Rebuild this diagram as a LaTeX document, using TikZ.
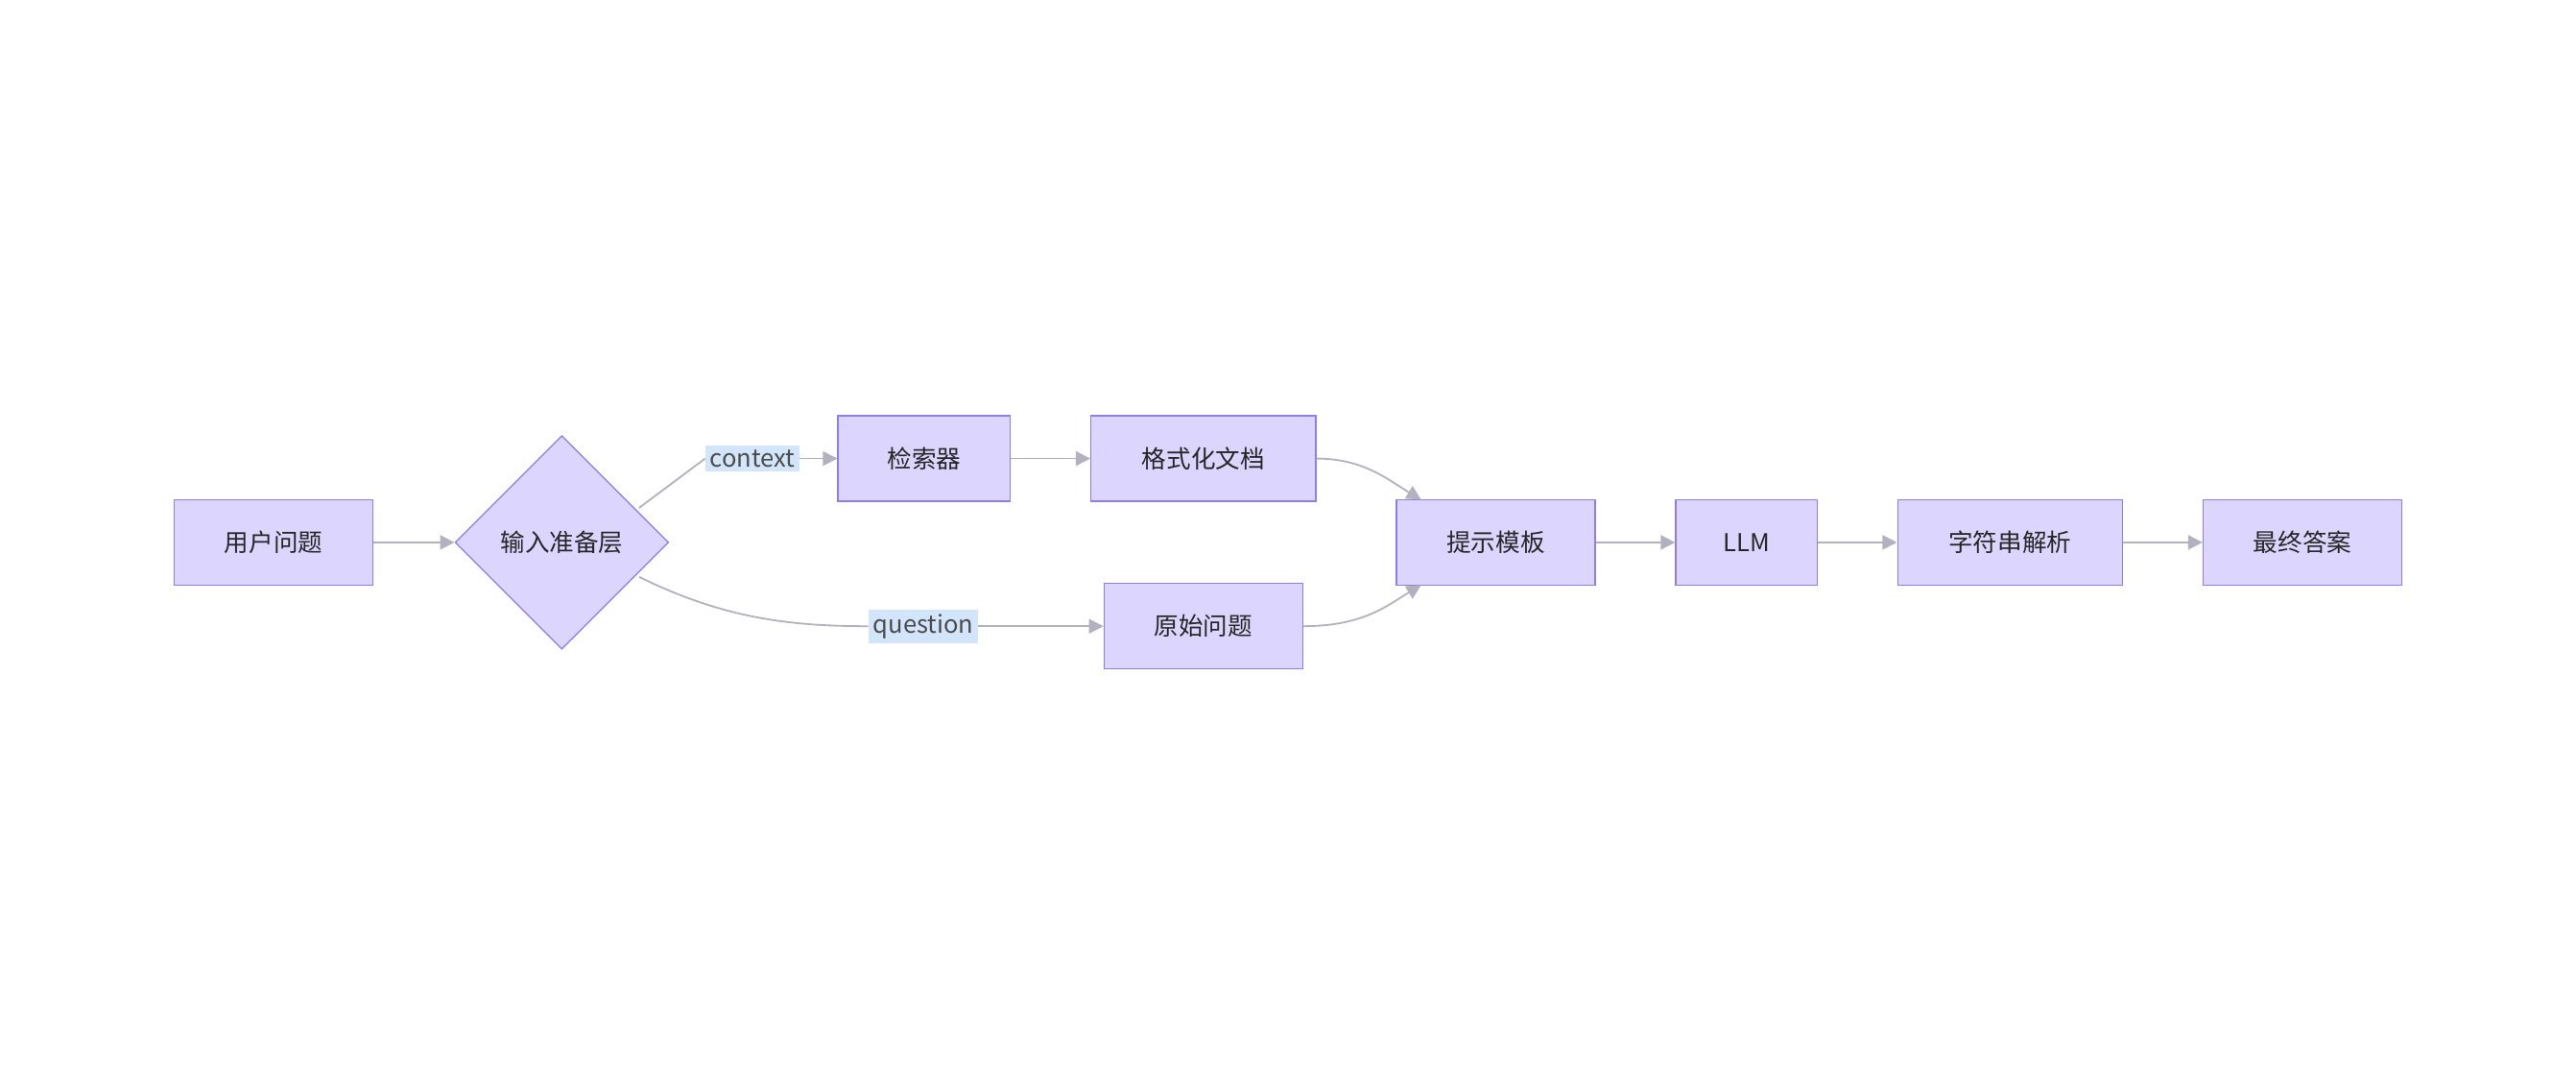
\documentclass[tikz,border=0pt]{standalone}
\usepackage{fontspec}
\setmainfont{Noto Sans CJK SC}
\usetikzlibrary{arrows.meta}
\usetikzlibrary{shapes.geometric}
\usetikzlibrary{positioning}
\definecolor{boxfill}{HTML}{DCD6FE}
\definecolor{boxline}{HTML}{8E7CF0}
\definecolor{linkgray}{HTML}{B3B1BF}
\definecolor{tagfill}{HTML}{D3E5FB}

\begin{document}
\begin{tikzpicture}[x=0.02cm, y=-0.02cm,
    every node/.style={font=\fontsize{8.5pt}{10pt}\selectfont, text=black!85},
    box/.style={rectangle, draw=boxline, fill=boxfill, minimum height=1.04cm, inner sep=0pt},
    gate/.style={diamond, draw=boxline, fill=boxfill, minimum width=2.6cm, minimum height=2.6cm, inner sep=0pt},
    tag/.style={fill=tagfill, inner sep=1.5pt, text=black!70},
    link/.style={draw=linkgray, line width=0.6pt, -{Triangle[length=5pt, width=5pt]}}]
	\useasboundingbox (0,0) rectangle (1568,660);
	% nodes
	\node[box, minimum width=2.42cm] (q) at (166.5,330) {用户问题};
	\node[gate] (prep) at (342,330) {输入准备层};
	\node[box, minimum width=2.10cm] (ret) at (562.5,279) {检索器};
	\node[box, minimum width=2.74cm] (fmt) at (732.5,279) {格式化文档};
	\node[box, minimum width=2.42cm] (raw) at (732.5,381) {原始问题};
	\node[box, minimum width=2.42cm] (tpl) at (910.5,330) {提示模板};
	\node[box, minimum width=1.72cm] (llm) at (1063,330) {LLM};
	\node[box, minimum width=2.74cm] (parse) at (1223.5,330) {字符串解析};
	\node[box, minimum width=2.42cm] (ans) at (1401.5,330) {最终答案};
	% labels
	\node[tag] (ctx) at (458,279) {context};
	\node[tag] (qst) at (562,381) {question};
	% links
	\draw[link] (q) -- (prep);
	\draw[draw=linkgray, line width=0.6pt] (389,309) -- (ctx.west);
	\draw[link] (ctx) -- (ret);
	\draw[draw=linkgray, line width=0.6pt] (389,351) .. controls (440,376) and (480,381) .. (qst.west);
	\draw[link] (qst) -- (raw);
	\draw[link] (ret) -- (fmt);
	\draw[link] (fmt.east) .. controls (830,279) and (845,292) .. (865,304);
	\draw[link] (raw.east) .. controls (830,381) and (845,368) .. (865,356);
	\draw[link] (tpl) -- (llm);
	\draw[link] (llm) -- (parse);
	\draw[link] (parse) -- (ans);
\end{tikzpicture}
\end{document}
